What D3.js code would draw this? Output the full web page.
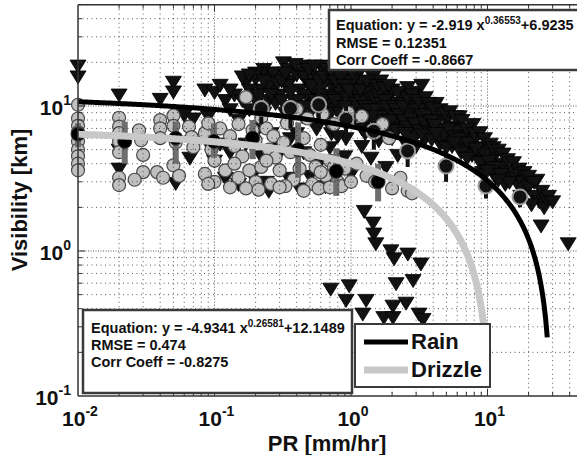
<!DOCTYPE html>
<html>
<head>
<meta charset="utf-8">
<script src="https://cdn.jsdelivr.net/npm/d3@7"></script>
<style>
  body { margin: 0; background: #fff; }
  svg { display: block; }
  text { font-family: "Liberation Sans", Arial, Helvetica, sans-serif; font-weight: bold; fill: #111; }
</style>
</head>
<body>
<svg id="chart" width="577" height="455"></svg>
<script>
// ---- Rain observations: [PR (mm/hr), visibility (km)] ----
const rainPoints = [
  [0.01,19],[0.01,16],[0.02,12],[0.04,11.2],[0.05,14.7],[0.05,12.6],[0.06,8.7],[0.02,5.0],[0.02,3.7],
  [0.052,2.95],[0.066,4.4],[0.07,8.2],
  [0.085,13],[0.1,12.5],[0.11,14],[0.12,11],[0.13,9.5],[0.09,8.5],[0.14,12],[0.15,8],[0.1,4.2],
  [0.12,3.2],[0.15,2.9],[0.11,5.5],
  [0.17,14.5],[0.19,12],[0.2,15.5],[0.22,13],[0.24,16.5],[0.25,11],[0.27,13.5],[0.18,9.5],[0.23,9],
  [0.28,10.5],[0.21,7],[0.26,6.5],[0.3,17],[0.19,3.3],[0.24,3.0],[0.29,4.5],
  [0.32,20],[0.35,18],[0.36,15],[0.4,16.5],[0.42,13],[0.45,19],[0.48,14.5],[0.5,11.5],[0.38,11],
  [0.55,16],[0.58,12.5],[0.33,9],[0.44,8.5],[0.52,9.5],[0.6,19],[0.4,6.5],[0.56,7],[0.35,3.2],[0.5,3.3],
  [0.65,17],[0.7,15],[0.75,13],[0.8,17.5],[0.85,14],[0.9,12],[0.95,15.5],[1.0,11],[1.05,13.5],[1.1,16],
  [0.68,10.5],[0.78,9.5],[0.88,8.5],[1.15,9.5],[0.72,6.5],[0.92,6],[1.2,14],
  [1.25,12],[1.35,14.5],[1.4,11],[1.5,13],[1.6,10],[1.7,12.5],[1.8,9],[1.9,11.5],[2.0,13],[2.1,8.5],
  [2.2,10.5],[2.4,12],[1.3,8],[1.55,7.5],[1.75,6.8],[2.3,7.5],[2.5,9.5],[1.45,16],[1.65,15],[2.0,6],
  [2.7,11],[2.9,9],[3.0,12.5],[3.2,8],[3.4,10],[3.6,7.5],[3.8,9.5],[4.0,6.8],[4.3,8.5],[4.6,7],[5.0,8],
  [5.3,6],[5.6,7.2],[2.8,7],[3.5,6],[4.5,5.5],[3.0,5.3],[2.6,13.5],[3.3,14],[4.2,10.5],
  [6.0,6.8],[6.5,5.5],[7.0,6.2],[7.5,5],[8.0,5.8],[8.5,4.6],[9.0,5.2],[9.5,4.2],[10,4.8],[10.5,3.9],
  [11,4.4],[12,3.6],[13,4],[14,3.3],[15,3.6],[6.2,8.5],[7.8,7.5],[9.2,3.5],[11.5,3.2],[13.5,2.9],
  [16,3.2],[17,2.8],[18,3.0],[19,2.6],[20,2.8],[22,2.4],[24,2.2],[26,2.0],[17.5,2.4],[21,2.1],[23,3.1],
  [0.3,12],[0.34,14],[0.37,10],[0.43,17],[0.47,12],[0.53,13.5],[0.57,10],[0.62,14],[0.66,12],[0.7,9],
  [0.74,11.5],[0.82,13],[0.87,10.5],[0.93,11.5],[0.97,9],[1.02,15],[1.08,10.5],[1.12,12.5],[1.18,11],
  [1.22,8.5],[1.28,10],[1.33,12.5],[1.38,9.5],[1.43,8.5],[1.48,11.5],[1.53,9.5],[1.58,12],[1.63,8.5],
  [1.68,10.5],[1.73,8],[1.78,11],[1.85,10],[1.95,8],[2.05,10],[2.15,9.5],[2.25,8.8],[2.35,10.5],
  [2.45,8],[2.55,7.2],[2.65,9.2],[2.75,8.3],[2.85,10],[2.95,7.6],[3.1,9.5],[3.15,6.8],[3.3,8.8],
  [3.45,7.8],[3.55,8.8],[3.7,6.6],[3.9,8],[4.1,7.4],[4.4,6.3],[4.8,6.4],[5.2,7.0],[5.5,5.3],[5.8,6.2],
  [6.3,6],[6.8,5],[7.2,5.6],[7.7,4.6],[8.2,5.1],[8.8,4.1],[9.6,4.6],[10.2,4.2],[11.2,3.8],[12.5,3.4],
  [14.5,3.0],[0.25,14],[0.28,16],[0.2,11],[0.16,11],[0.13,13],[0.23,18],
  [0.09,5.5],[0.13,4.8],[0.17,5.5],[0.22,4.5],[0.3,5.2],[0.36,6.0],[0.45,4.8],[0.6,4.2],[0.7,5.2],
  [0.8,6.2],[0.25,2.6],[0.42,2.7],[0.65,2.8],[0.9,4.5],[1.0,3.4],[1.2,5.3],[1.4,4.4],[1.6,5.8],
  [1.8,3.8],[2.2,4.6],[2.5,5.6],
  [0.16,16],[0.18,13],[0.2,17],[0.21,12],[0.23,15],[0.26,12],[0.27,17],[0.29,14.5],[0.31,11],[0.18,16.5],
  [0.31,15],[0.33,17],[0.39,19.5],[0.41,11],[0.46,16],[0.49,18],[0.51,14],[0.54,19],[0.59,15],[0.41,9],
  [0.46,10],[0.55,11],[0.36,12.5],[0.6,9],
  [0.63,16],[0.67,18],[0.73,17],[0.77,15],[0.84,16],[0.89,14],[0.96,13],[1.03,17],[0.62,11],[0.66,8],
  [0.76,11],[0.83,9],[0.9,10],[1.07,8.5],[1.17,13],[1.2,7],
  [1.3,15],[1.55,14],[1.75,13.5],[1.9,14],[2.2,12.5],[1.27,6.5],[1.42,7],[1.62,6.5],[1.95,7],[2.15,6.8],
  [2.4,10],[2.6,11.5],[2.8,12],[3.1,11],[3.5,11.5],[3.7,10.5],[4.0,9.8],[2.5,6.5],[2.9,6],[3.3,6.4],
  [3.9,5.9],[4.2,6.5],
  [4.5,9.5],[4.9,9],[5.3,9.2],[5.8,8.5],[6.5,8],[7,7],[5,5.2],[5.7,5.6],[6.4,4.8],[7.1,4.4],
  [8,6.5],[8.8,6.6],[9.5,6],[10.5,5.5],[11,5.2],[12,5],[13,4.7],[14,4.3],[10,3.6],[12,3.1],
  [15.5,4.1],[17,3.7],[18.5,3.5],[20,3.3],[22,3.0],[25,2.6],[27,2.3],[28,2.4],[30,2.2],
  [1.25,1.89],[1.45,1.57],[1.47,1.32],[1.52,1.13],[1.96,1.01],[2.07,0.89],[0.71,0.55],[0.97,0.58],
  [0.92,0.46],[1.29,0.46],[1.22,0.37],[1.74,0.35],[2.03,0.35],[2.61,0.96],[3.25,0.82],[2.85,0.63],
  [2.14,0.60],[2.03,0.42],[2.53,0.44],[3.15,0.37],[3.37,0.34],[24.7,1.50],[39,1.13]
];

// ---- Drizzle observations: [PR (mm/hr), visibility (km)] ----
const drizzlePoints = [
  [0.01,10.2],[0.01,8.2],[0.01,7.3],[0.01,6.6],[0.01,5.7],[0.01,5.0],[0.01,4.5],[0.01,4.0],[0.01,3.6],
  [0.02,8.3],[0.02,7.2],[0.02,6.5],[0.02,5.7],[0.02,4.8],[0.02,3.2],[0.02,2.85],
  [0.028,6.8],[0.029,5.8],[0.03,4.6],[0.03,3.5],[0.026,3.1],
  [0.04,8.0],[0.04,7.0],[0.04,6.0],[0.038,3.5],[0.042,3.2],
  [0.05,8.6],[0.05,7.3],[0.052,5.6],[0.05,3.9],[0.055,3.3],
  [0.065,7.2],[0.068,6.1],[0.07,5.2],
  [0.085,6.5],[0.09,7.6],[0.095,5.0],[0.1,4.2],[0.085,3.4],[0.1,3.0],[0.11,7.0],
  [0.13,6.2],[0.14,5.3],[0.15,7.5],[0.16,4.5],[0.17,11.5],[0.18,3.6],[0.19,6.8],[0.2,5.8],[0.12,3.6],
  [0.15,3.2],[0.2,3.0],[0.17,2.7],
  [0.22,8.3],[0.24,7.0],[0.25,5.0],[0.27,6.2],[0.28,4.4],[0.3,3.6],[0.32,5.6],[0.34,7.6],[0.36,4.8],
  [0.38,3.1],[0.26,2.9],[0.4,9.5],[0.33,2.8],[0.22,3.8],
  [0.45,6.0],[0.5,4.6],[0.55,3.8],[0.6,5.4],[0.65,3.3],[0.7,4.2],[0.8,3.0],[0.9,3.7],[0.48,8.2],
  [0.62,8.8],[0.75,7.5],[0.85,2.8],[0.52,2.9],[0.95,9.0],
  [1.1,4.0],[1.3,3.3],[1.5,3.0],[1.7,7.5],[2.0,2.7],[2.3,3.2],[2.6,2.6],[1.2,8.5],[1.9,6.0],[2.8,2.5],
  [0.09,2.9],[0.13,2.75],[0.21,2.65],[0.3,2.75],[0.45,2.6],[0.58,2.7],[0.7,2.75],[0.14,4.0],[0.24,4.2],
  [0.42,3.7],[0.6,3.5],[1.0,3.0],[0.75,3.8]
];

// ---- Binned means with spread ----
const drizzleMeanPR  = [0.01, 0.022, 0.052, 0.099, 0.19, 0.41, 0.78, 1.58];
const drizzleMeanVis = [6.4, 5.7, 6.0, 5.7, 6.0, 5.0, 3.55, 3.0];
const drizzleLow     = [5.2, 4.0, 4.0, 4.4, 4.3, 3.2, 2.4, 2.2];
const drizzleHigh    = [7.6, 7.8, 7.8, 7.6, 8.0, 7.7, 5.1, 4.0];

const rainMeanPR  = [0.22, 0.36, 0.58, 0.92, 1.47, 2.6, 4.97, 9.75, 17.3];
const rainMeanVis = [9.6, 9.6, 10.2, 8.1, 6.7, 4.9, 3.85, 2.81, 2.36];
const rainLow     = [7.5, 7.0, 7.5, 6.0, 5.0, 3.8, 3.0, 2.3, 2.0];
const rainHigh    = [13, 14, 14, 12, 10, 7.0, 5.5, 3.8, 2.9];

// ---- Power-law fits y = a*x^b + c, and the PR span each is drawn over ----
const rainFit    = [-4.9341, 0.26581, 12.1489];
const rainFitPR  = [0.01, 27.4];
const drizzleFit   = [-2.919, 0.36553, 6.9235];
const drizzleFitPR = [0.01, 10];

// ---- Text ----
const xMajorTicks = [0.01, 0.1, 1, 10];
const xTickExp = ["-2", "-1", "0", "1"];
const yMajorTicks = [0.1, 1, 10];
const yTickExp = ["-1", "0", "1"];
const topBoxLines = [
  ["Equation: y = -2.919 x", "0.36553", "+6.9235"],
  ["RMSE = 0.12351"],
  ["Corr Coeff = -0.8667"]
];
const bottomBoxLines = [
  ["Equation: y = -4.9341 x", "0.26581", "+12.1489"],
  ["RMSE = 0.474"],
  ["Corr Coeff = -0.8275"]
];
const legendNames = ["Rain", "Drizzle"];

// ---- Layout ----
const svg = d3.select("#chart");
const pLeft = 78, pBottom = 396, decX = 136.5, decY = 145;
const x = d3.scaleLog().domain([0.01, 100]).range([pLeft, pLeft + 4 * decX]);
const y = d3.scaleLog().domain([0.1, 50]).range([pBottom, pBottom - decY * Math.log10(500)]);
const pTop = y(50), pRight = x(100);

svg.append("rect").attr("width", 577).attr("height", 455).attr("fill", "#fff");

svg.append("defs").append("clipPath").attr("id", "plotclip")
  .append("rect").attr("x", pLeft).attr("y", pTop).attr("width", pRight - pLeft).attr("height", pBottom - pTop);

const plot = svg.append("g").attr("clip-path", "url(#plotclip)");

// dotted grid, every 1..9 of each decade
const isMajor = v => Math.abs(Math.log10(v) - Math.round(Math.log10(v))) < 1e-9;
const gx = x.ticks().filter(v => v > 0.01 && v < 100);
const gy = y.ticks().filter(v => v > 0.1 && v <= 50);
plot.append("g").selectAll("line").data(gx).join("line")
  .attr("x1", d => x(d)).attr("x2", d => x(d)).attr("y1", pTop).attr("y2", pBottom)
  .attr("stroke", "#222").attr("stroke-width", 1)
  .attr("stroke-dasharray", d => isMajor(d) ? "1,2" : "1,3.5").attr("opacity", 0.75);
plot.append("g").selectAll("line").data(gy).join("line")
  .attr("y1", d => y(d)).attr("y2", d => y(d)).attr("x1", pLeft).attr("x2", pRight)
  .attr("stroke", "#222").attr("stroke-width", 1)
  .attr("stroke-dasharray", d => isMajor(d) ? "1,1.5" : "1,3.5").attr("opacity", 0.75);

// markers are not clipped at the axes
const marks = svg.append("g");

// rain observations: downward triangles
const tri = "M-8,-5.5L8,-5.5L0,7.5Z";
marks.append("g").selectAll("path").data(rainPoints).join("path")
  .attr("d", tri)
  .attr("transform", d => `translate(${x(d[0])},${y(d[1])})`)
  .attr("fill", "#111").attr("stroke", "#000").attr("stroke-width", 0.8);

// drizzle observations: grey circles
marks.append("g").selectAll("circle").data(drizzlePoints).join("circle")
  .attr("cx", d => x(d[0])).attr("cy", d => y(d[1])).attr("r", 6.5)
  .attr("fill", "#c0c0c0").attr("stroke", "#4a4a4a").attr("stroke-width", 1.2);

// spread bars
marks.append("g").selectAll("rect").data(drizzleMeanPR).join("rect")
  .attr("x", d => x(d) - 3).attr("width", 6)
  .attr("y", (d, i) => y(drizzleHigh[i])).attr("height", (d, i) => y(drizzleLow[i]) - y(drizzleHigh[i]))
  .attr("fill", "#6e6e6e");
marks.append("g").selectAll("rect").data(rainMeanPR).join("rect")
  .attr("x", d => x(d) - 2).attr("width", 4)
  .attr("y", (d, i) => y(rainHigh[i])).attr("height", (d, i) => y(rainLow[i]) - y(rainHigh[i]))
  .attr("fill", "#111");

// binned means
marks.append("g").selectAll("circle").data(drizzleMeanPR).join("circle")
  .attr("cx", d => x(d)).attr("cy", (d, i) => y(drizzleMeanVis[i])).attr("r", 7)
  .attr("fill", "#000").attr("stroke", "#333").attr("stroke-width", 1);
marks.append("g").selectAll("circle").data(rainMeanPR).join("circle")
  .attr("cx", d => x(d)).attr("cy", (d, i) => y(rainMeanVis[i])).attr("r", 7.5)
  .attr("fill", "#111").attr("stroke", "#9c9c9c").attr("stroke-width", 2);

// fitted curves
function fitCurve(p, span) {
  const [a, b, c] = p;
  const lo = Math.log10(span[0]), hi = Math.log10(span[1]);
  return d3.range(0, 301).map(k => {
    const pr = Math.pow(10, lo + (hi - lo) * k / 300);
    return [pr, a * Math.pow(pr, b) + c];
  }).filter(d => d[1] > 0);
}
const line = d3.line().x(d => x(d[0])).y(d => y(d[1]));
plot.append("path").datum(fitCurve(drizzleFit, drizzleFitPR)).attr("d", line)
  .attr("fill", "none").attr("stroke", "#c8c8c8").attr("stroke-width", 7);
plot.append("path").datum(fitCurve(rainFit, rainFitPR)).attr("d", line)
  .attr("fill", "none").attr("stroke", "#000").attr("stroke-width", 5);
// keep the curves above the markers
plot.raise();

// frame and inward ticks
const frame = svg.append("g");
frame.append("line").attr("x1", pLeft).attr("x2", 577).attr("y1", pTop).attr("y2", pTop)
  .attr("stroke", "#333").attr("stroke-width", 1.5);
frame.append("line").attr("x1", pLeft).attr("x2", 577).attr("y1", pBottom).attr("y2", pBottom)
  .attr("stroke", "#333").attr("stroke-width", 1.5);
frame.append("line").attr("x1", pLeft).attr("x2", pLeft).attr("y1", pTop).attr("y2", pBottom)
  .attr("stroke", "#333").attr("stroke-width", 1.5);
const tickLen = d => isMajor(d) ? 7 : 4;
frame.append("g").selectAll("line").data(gx).join("line")
  .attr("x1", d => x(d)).attr("x2", d => x(d)).attr("y1", pBottom).attr("y2", d => pBottom - tickLen(d))
  .attr("stroke", "#333");
frame.append("g").selectAll("line").data(gx).join("line")
  .attr("x1", d => x(d)).attr("x2", d => x(d)).attr("y1", pTop).attr("y2", d => pTop + tickLen(d))
  .attr("stroke", "#333");
frame.append("g").selectAll("line").data(gy).join("line")
  .attr("y1", d => y(d)).attr("y2", d => y(d)).attr("x1", pLeft).attr("x2", d => pLeft + tickLen(d))
  .attr("stroke", "#333");

// tick labels with exponents
const xl = svg.append("g").selectAll("text").data(xMajorTicks).join("text")
  .attr("x", d => x(d) + 2).attr("y", 426).attr("text-anchor", "middle").attr("font-size", 21);
xl.append("tspan").text("10");
xl.append("tspan").attr("dy", -10).attr("font-size", 14).text((d, i) => xTickExp[i]);

const yl = svg.append("g").selectAll("text").data(yMajorTicks).join("text")
  .attr("x", 71).attr("y", d => y(d) + 9).attr("text-anchor", "end").attr("font-size", 21);
yl.append("tspan").text("10");
yl.append("tspan").attr("dy", -10).attr("font-size", 14).text((d, i) => yTickExp[i]);

// axis titles
svg.append("text").attr("x", 327).attr("y", 451).attr("text-anchor", "middle")
  .attr("font-size", 22).text("PR [mm/hr]");
svg.append("text").attr("transform", "translate(27,200) rotate(-90)").attr("text-anchor", "middle")
  .attr("font-size", 22).text("Visibility [km]");

// fit statistics boxes
function statBox(bx, by, bw, bh, tx, baselines, lines) {
  const g = svg.append("g");
  g.append("rect").attr("x", bx).attr("y", by).attr("width", bw).attr("height", bh)
    .attr("fill", "#fff").attr("stroke", "#3a3a3a").attr("stroke-width", 2.5);
  lines.forEach((parts, i) => {
    const t = g.append("text").attr("x", tx).attr("y", baselines[i]).attr("font-size", 14.5);
    t.append("tspan").text(parts[0]);
    if (parts.length > 1) {
      t.append("tspan").attr("dy", -6).attr("font-size", 10).text(parts[1]);
      t.append("tspan").attr("dy", 6).text(parts[2]);
    }
  });
}
statBox(329, 10, 260, 60, 336, [30, 48, 65], topBoxLines);
statBox(83, 310, 269, 83, 91, [333, 350, 367], bottomBoxLines);

// legend
const lg = svg.append("g");
lg.append("rect").attr("x", 355).attr("y", 324).attr("width", 135).attr("height", 63)
  .attr("fill", "#fff").attr("stroke", "#3a3a3a").attr("stroke-width", 2);
const legendStyle = [{ c: "#000", w: 5, y: 342 }, { c: "#c8c8c8", w: 7, y: 370 }];
legendNames.forEach((name, i) => {
  lg.append("line").attr("x1", 364).attr("x2", 408).attr("y1", legendStyle[i].y).attr("y2", legendStyle[i].y)
    .attr("stroke", legendStyle[i].c).attr("stroke-width", legendStyle[i].w);
  lg.append("text").attr("x", 411).attr("y", legendStyle[i].y + 7).attr("font-size", 22).text(name);
});
</script>
</body>
</html>
